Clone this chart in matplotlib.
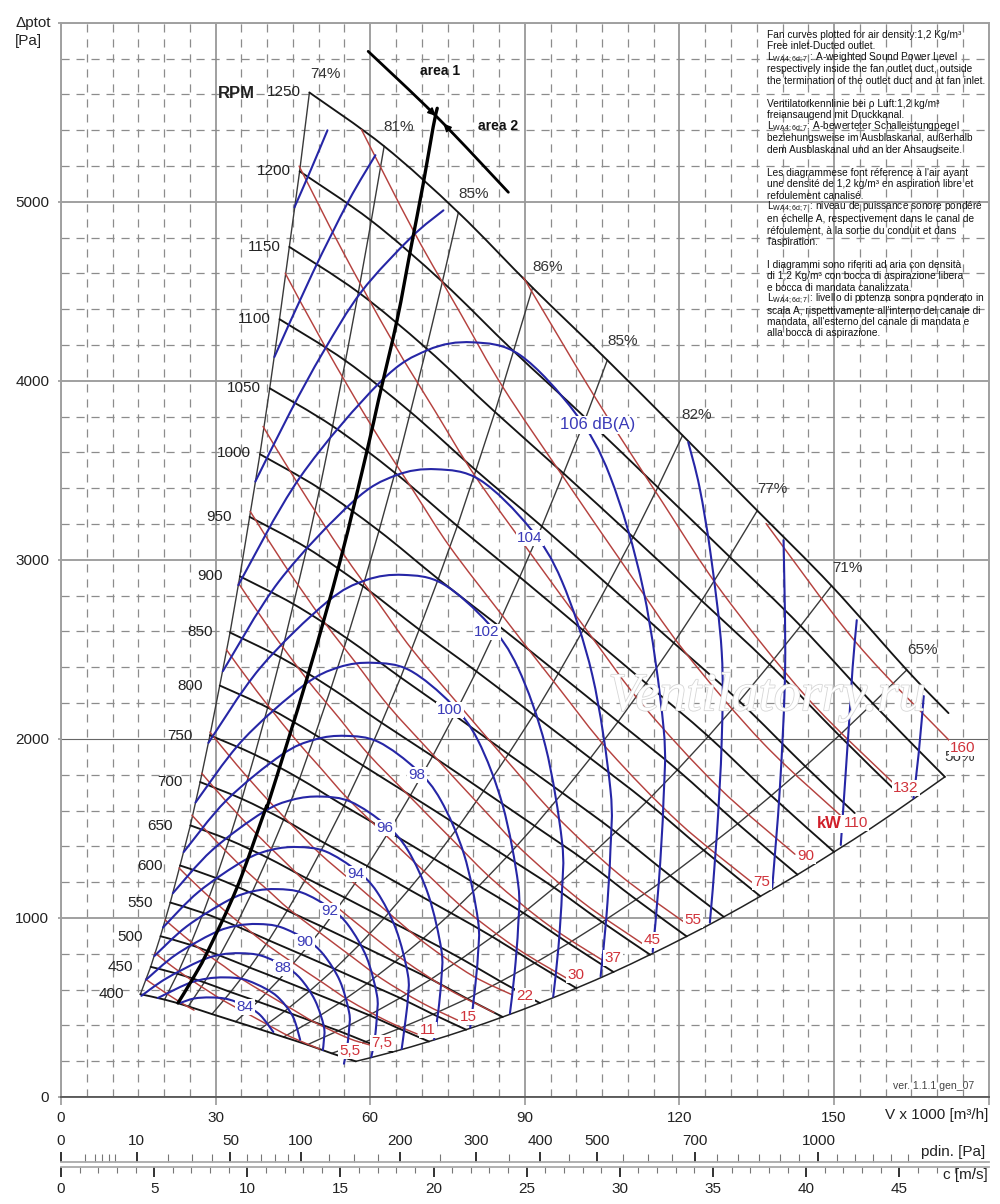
import matplotlib
matplotlib.use("Agg")
import matplotlib.pyplot as plt
import matplotlib.patheffects as pe
from matplotlib.path import Path
from matplotlib.patches import PathPatch, FancyArrowPatch
import numpy as np

plt.rcParams['font.family'] = ['Liberation Sans', 'DejaVu Sans']
plt.rcParams['mathtext.default'] = 'regular'

# ---------- RPM curves: one row per speed ----------
RPM_LEVELS = [1250, 1200, 1150, 1100, 1050, 1000, 950, 900, 850, 800, 750, 700, 650, 600, 550, 500, 450, 400]
RPM_V = [
    [48.2, 62.7, 77.1, 91.5, 106.0, 120.6, 135.1, 149.5, 164.1, 172.2],
    [46.3, 60.2, 74.0, 87.8, 101.8, 115.8, 129.7, 143.5, 157.5, 171.5],
    [44.3, 57.7, 70.9, 84.2, 97.5, 111.0, 124.3, 137.5, 151.0, 161.4],
    [42.4, 55.2, 67.8, 80.5, 93.3, 106.1, 118.9, 131.6, 144.4, 154.0],
    [40.5, 52.7, 64.8, 76.9, 89.0, 101.3, 113.5, 125.6, 137.8, 150.0],
    [38.6, 50.2, 61.7, 73.2, 84.8, 96.5, 108.1, 119.6, 131.3, 142.9],
    [36.6, 47.7, 58.6, 69.5, 80.6, 91.7, 102.7, 113.6, 124.7, 135.7],
    [34.7, 45.1, 55.5, 65.9, 76.3, 86.8, 97.3, 107.6, 118.2, 128.6],
    [32.8, 42.6, 52.4, 62.2, 72.1, 82.0, 91.9, 101.7, 111.6, 121.4],
    [30.8, 40.1, 49.3, 58.6, 67.8, 77.2, 86.5, 95.7, 105.0, 114.3],
    [28.9, 37.6, 46.3, 54.9, 63.6, 72.4, 81.1, 89.7, 98.5, 107.2],
    [27.0, 35.1, 43.2, 51.2, 59.4, 67.5, 75.7, 83.7, 91.9, 100.0],
    [25.1, 32.6, 40.1, 47.6, 55.1, 62.7, 70.3, 77.7, 85.3, 92.9],
    [23.1, 30.1, 37.0, 43.9, 50.9, 57.9, 64.8, 71.8, 78.8, 85.7],
    [21.2, 27.6, 33.9, 40.3, 46.6, 53.1, 59.4, 65.8, 72.2, 78.6],
    [19.3, 25.1, 30.8, 36.6, 42.4, 48.2, 54.0, 59.8, 65.6, 71.4],
    [17.4, 22.6, 27.8, 32.9, 38.2, 43.4, 48.6, 53.8, 59.1, 64.3],
    [15.4, 20.1, 24.7, 29.3, 33.9, 38.6, 43.2, 47.8, 52.5, 57.2],
]
RPM_P = [
    [5610, 5310, 4940, 4520, 4115, 3695, 3275, 2855, 2385, 2144],
    [5170, 4894, 4553, 4166, 3792, 3405, 3018, 2631, 2198, 1788],
    [4748, 4494, 4181, 3826, 3483, 3127, 2772, 2416, 2019, 1725],
    [4344, 4112, 3826, 3500, 3187, 2861, 2536, 2211, 1847, 1586],
    [3958, 3747, 3486, 3189, 2904, 2607, 2311, 2014, 1683, 1369],
    [3590, 3398, 3162, 2893, 2634, 2365, 2096, 1827, 1526, 1242],
    [3240, 3067, 2853, 2611, 2377, 2134, 1892, 1649, 1378, 1121],
    [2908, 2753, 2561, 2343, 2133, 1915, 1698, 1480, 1236, 1006],
    [2594, 2455, 2284, 2090, 1903, 1709, 1514, 1320, 1103, 897],
    [2298, 2175, 2023, 1851, 1685, 1513, 1341, 1169, 977, 795],
    [2020, 1912, 1778, 1627, 1481, 1330, 1179, 1028, 859, 698],
    [1759, 1665, 1549, 1417, 1290, 1159, 1027, 895, 748, 608],
    [1517, 1436, 1336, 1222, 1113, 999, 886, 772, 645, 525],
    [1293, 1223, 1138, 1041, 948, 851, 755, 658, 549, 447],
    [1086, 1028, 956, 875, 797, 715, 634, 553, 462, 376],
    [898, 850, 790, 723, 658, 591, 524, 457, 382, 310],
    [727, 688, 640, 586, 533, 479, 424, 370, 309, 251],
    [574, 544, 506, 463, 421, 378, 335, 292, 244, 199],
]
# Lower right boundary of the field
EDGE_V = [171.5, 164.3, 157.2, 150.0, 142.9, 135.7, 128.6, 121.4, 114.3, 107.2, 100.0, 92.9, 85.7, 78.6, 71.4, 64.3, 57.2]
EDGE_P = [1788, 1642, 1502, 1369, 1242, 1121, 1006, 897, 795, 698, 608, 525, 447, 376, 310, 251, 199]

# ---------- Power curves (kW) ----------
KW_LEVELS = [160, 132, 110, 90, 75, 55, 45, 37, 30, 22, 18.5, 15, 11, 7.5, 5.5, 4]
KW_V = [
    [136.8, 154.4, 172.5],
    [89.7, 103.6, 116.7, 128.3, 144.8, 161.7],
    [58.3, 68.6, 77.6, 85.8, 97.5, 109.9, 120.8, 136.3, 152.2],
    [46.2, 54.5, 64.2, 72.6, 80.3, 91.2, 102.8, 113.0, 127.6, 142.4],
    [43.5, 51.3, 60.4, 68.3, 75.5, 85.8, 96.7, 106.3, 120.0, 134.0],
    [39.2, 46.3, 54.5, 61.6, 68.1, 77.4, 87.2, 95.9, 108.2, 120.9],
    [36.7, 43.2, 50.9, 57.6, 63.6, 72.3, 81.5, 89.6, 101.2, 113.0],
    [34.4, 40.5, 47.7, 54.0, 59.6, 67.8, 76.4, 84.0, 94.8, 105.9],
    [32.1, 37.8, 44.5, 50.3, 55.6, 63.2, 71.3, 78.3, 88.4, 98.8],
    [28.9, 34.1, 40.2, 45.4, 50.2, 57.1, 64.3, 70.7, 79.8, 87.6],
    [27.3, 32.2, 37.9, 42.8, 47.3, 53.8, 60.6, 66.7, 75.2, 84.0],
    [25.4, 30.0, 35.3, 40.0, 44.2, 50.2, 56.6, 62.2, 70.2, 78.4],
    [22.9, 27.0, 31.8, 36.0, 39.8, 45.2, 51.0, 56.0, 63.2, 69.1],
    [20.2, 23.8, 28.0, 31.7, 35.0, 39.8, 44.9, 49.3, 55.7, 60.0],
    [18.2, 21.4, 25.2, 28.5, 31.6, 35.9, 40.4, 44.4, 50.2],
    [16.4, 19.4, 22.8, 25.8],
]
KW_P = [
    [3203, 2534, 1987],
    [4578, 3909, 3322, 2818, 2229, 1748],
    [5403, 4826, 4372, 3962, 3461, 2941, 2495, 1974, 1548],
    [5199, 4732, 4227, 3830, 3470, 3032, 2576, 2185, 1729, 1356],
    [4601, 4188, 3741, 3389, 3071, 2683, 2280, 1934, 1530, 1200],
    [3745, 3409, 3045, 2759, 2500, 2184, 1856, 1574, 1245, 977],
    [3271, 2978, 2660, 2410, 2183, 1908, 1621, 1375, 1088, 853],
    [2871, 2613, 2334, 2115, 1916, 1674, 1423, 1207, 955, 749],
    [2498, 2274, 2031, 1840, 1668, 1457, 1238, 1050, 831, 652],
    [2038, 1855, 1657, 1501, 1360, 1189, 1010, 857, 678, 570],
    [1808, 1646, 1470, 1332, 1207, 1054, 896, 760, 601, 472],
    [1574, 1432, 1279, 1159, 1050, 918, 780, 661, 523, 410],
    [1279, 1164, 1040, 942, 854, 746, 634, 538, 425, 352],
    [989, 900, 804, 729, 660, 577, 490, 416, 329, 290],
    [805, 733, 655, 593, 537, 470, 399, 338, 268],
    [658, 599, 535, 485],
]

# ---------- Sound level curves (dB(A)); 108-112 appear as two separate arcs ----------
DB_LEVELS = [114, 112, 112, 110, 110, 108, 108, 106, 104, 102, 100, 98, 96, 94, 92, 90, 88, 86, 84]
DB_V = [
    [167.4, 166.4, 165.4],
    [45.3, 48.5, 51.7],
    [154.4, 153.6, 152.9, 151.3],
    [41.4, 48.8, 55.8, 61.0],
    [140.2, 140.5, 139.5, 138.0],
    [37.7, 44.5, 50.9, 58.3, 67.9, 74.2],
    [121.7, 123.9, 126.1, 128.2, 128.2, 127.2, 125.9],
    [34.4, 46.4, 61.9, 71.1, 79.8, 89.1, 99.8, 106.6, 113.0, 116.9, 116.9, 116.0, 114.8],
    [31.4, 42.3, 56.5, 64.8, 72.8, 81.3, 91.0, 97.2, 103.1, 106.6, 106.6, 105.8, 104.7],
    [28.6, 38.6, 51.5, 59.1, 66.4, 74.1, 83.0, 88.7, 94.0, 97.2, 97.2, 96.5, 95.5],
    [26.1, 35.2, 47.0, 53.9, 60.5, 67.6, 75.7, 80.9, 85.7, 88.7, 88.7, 88.0, 87.1],
    [23.8, 32.1, 42.8, 49.2, 55.2, 61.6, 69.0, 73.7, 78.2, 80.9, 80.9, 80.2, 79.4],
    [21.7, 29.3, 39.1, 44.9, 50.4, 56.2, 63.0, 67.3, 71.3, 73.8, 73.8, 73.2, 72.4],
    [19.8, 26.7, 35.6, 40.9, 45.9, 51.3, 57.4, 61.3, 65.0, 67.3, 67.3, 66.7, 66.1],
    [18.1, 24.4, 32.5, 37.3, 41.9, 46.8, 52.4, 55.9, 59.3, 61.3, 61.3, 60.9, 60.2],
    [16.5, 22.2, 29.6, 34.0, 38.2, 42.6, 47.8, 51.0, 54.1, 55.9, 55.9, 55.5, 54.9],
    [15.6, 20.3, 27.0, 31.0, 34.8, 38.9, 43.6, 46.5, 49.3, 51.0, 51.0, 50.8],
    [18.8, 24.6, 28.3, 31.8, 35.5, 39.7, 42.4, 45.0, 46.4],
    [23.1, 25.8, 29.0, 32.4, 36.2, 38.7, 41.2],
]
DB_P = [
    [2239, 1915, 1669],
    [4969, 5180, 5399],
    [2663, 2400, 2086, 1408],
    [4133, 4601, 5004, 5260],
    [3110, 2397, 1735, 1171],
    [3437, 3827, 4162, 4498, 4800, 4952],
    [3657, 3404, 3021, 2484, 1993, 1443, 974],
    [2859, 3462, 3992, 4171, 4215, 4143, 3819, 3462, 2831, 2066, 1658, 1200, 810],
    [2378, 2880, 3321, 3470, 3506, 3446, 3177, 2880, 2355, 1719, 1379, 998, 674],
    [1978, 2395, 2762, 2886, 2916, 2866, 2642, 2395, 1959, 1429, 1147, 830, 560],
    [1645, 1992, 2297, 2400, 2425, 2384, 2197, 1992, 1629, 1189, 954, 690, 466],
    [1368, 1657, 1911, 1996, 2017, 1983, 1828, 1657, 1355, 989, 794, 574, 388],
    [1138, 1378, 1589, 1660, 1678, 1649, 1520, 1378, 1127, 822, 660, 478, 322],
    [947, 1146, 1322, 1381, 1396, 1372, 1264, 1146, 937, 684, 549, 397, 268],
    [787, 953, 1099, 1149, 1161, 1141, 1052, 953, 780, 569, 457, 330, 223],
    [655, 793, 915, 956, 966, 949, 875, 793, 649, 473, 380, 275, 186],
    [565, 660, 760, 795, 803, 789, 727, 660, 539, 394, 316, 262],
    [553, 633, 661, 668, 657, 605, 549, 449, 320],
    [525, 550, 556, 546, 503, 456, 363],
]

# ---------- Heavy lines ----------
DIVIDE_V = [22.7, 25.4, 28.3, 34.2, 39.6, 40.6, 47.8, 54.2, 59.4, 61.6, 65.2, 67.8, 70.3, 72.2, 73.0]
DIVIDE_P = [525, 653, 804, 1173, 1602, 1675, 2345, 2998, 3612, 3892, 4338, 4729, 5103, 5416, 5522]
AREA_V = [59.6, 73.0, 86.8]
AREA_P = [5840, 5472, 5053]

# ---------- Axis ticks ----------
V_MAJOR = [0, 30, 60, 90, 120, 150, 180]
V_LABELS = ['0', '30', '60', '90', '120', '150', '']
V_MINOR = [v for v in range(5, 180, 5) if v % 30]
P_MAJOR = [0, 1000, 2000, 3000, 4000, 5000, 6000]
P_LABELS = ['0', '1000', '2000', '3000', '4000', '5000', '']
P_MINOR = [p for p in range(200, 6000, 200) if p % 1000]
PDIN_MAJOR = [0, 10, 50, 100, 200, 300, 400, 500, 700, 1000]
PDIN_MINOR = [1, 2, 3, 4, 5, 20, 30, 40, 60, 70, 80, 90, 125, 150, 175, 250, 350, 450, 550,
              600, 650, 750, 800, 850, 900, 950, 1050, 1100, 1150, 1200, 1250]
C_MAJOR = [0, 5, 10, 15, 20, 25, 30, 35, 40, 45]
C_MINOR = [c for c in range(1, 50) if c % 5]

# ---------- Texts ----------
EFF_LABELS = ['74%', '81%', '85%', '86%', '85%', '82%', '77%', '71%', '65%', '56%']
EFF_POS = [(325, 74), (399, 127), (474, 194), (548, 267), (623, 341), (697, 415), (772, 489), (847, 568), (922, 650), (960, 757)]
RPM_POS = [(284, 92), (274, 171), (264, 247), (254, 319), (244, 388), (234, 453), (219, 517), (210, 576), (200, 632),
           (190, 686), (180, 736), (170, 782), (160, 826), (150, 866), (140, 903), (130, 937), (120, 967), (111, 994)]
KW_TEXT = ['5,5', '7,5', '11', '15', '22', '30', '37', '45', '55', '75', '90', '110', '132', '160']
KW_POS = [(350, 1051), (382, 1043), (428, 1030), (468, 1017), (525, 996), (576, 975), (613, 958), (652, 940), (693, 920),
          (762, 882), (806, 856), (856, 823), (906, 788), (963, 748)]
DB_TEXT = ['84', '88', '90', '92', '94', '96', '98', '100', '102', '104', '106 dB(A)']
DB_POS = [(245, 1007), (283, 968), (305, 942), (330, 911), (356, 874), (385, 828), (417, 775), (450, 710), (487, 632), (530, 538), (598, 425)]
NOTE_L = 'L$_{WA4;6d;7}$'
NOTES = [
    'Fan curves plotted for air density:1,2 Kg/m³',
    'Free inlet-Ducted outlet.',
    NOTE_L + ' : A-weighted Sound Power Level',
    'respectively inside the fan outlet duct, outside',
    'the termination of the outlet duct and at fan inlet.',
    '',
    'Ventilatorkennlinie bei ρ Luft:1,2 kg/m³',
    'freiansaugend mit Druckkanal.',
    NOTE_L + ': A-bewerteter Schalleistungpegel',
    'beziehungsweise im Ausblaskanal, außerhalb',
    'dem Ausblaskanal und an der Ansaugseite.',
    '',
    "Les diagrammese font réference à l'air ayant",
    'une densité de 1,2 kg/m³ en aspiration libre et',
    'refoulement canalisé.',
    NOTE_L + ' : niveau de puissance sonore pondéré',
    'en échelle A, respectivement dans le canal de',
    'réfoulement, à la sortie du conduit et dans',
    "l'aspiration.",
    '',
    'I diagrammi sono riferiti ad aria con densità',
    'di 1,2 Kg/m³ con bocca di aspirazione libera',
    'e bocca di mandata canalizzata.',
    NOTE_L + ' : livello di potenza sonora ponderato in',
    "scala A, rispettivamente all'interno del canale di",
    "mandata, all'esterno del canale di mandata e",
    'alla bocca di aspirazione.',
]

W, H = 1000, 1204
RED, BLUE = '#b5423f', '#2626a6'
RED_T, BLUE_T = '#d0323a', '#3a3ab8'
GRID = '#8c8c8c'

fig = plt.figure(figsize=(W / 100, H / 100), dpi=100, facecolor='white')
L, R, B, T_ = 61, 988.7, 1097, 22.7
ax = fig.add_axes([L / W, 1 - B / H, (R - L) / W, (B - T_) / H])
ax.set_xlim(0, 180)
ax.set_ylim(0, 6000)
ax.set_axisbelow(True)


def txt(px, py, s, **kw):
    kw.setdefault('ha', 'center')
    kw.setdefault('va', 'center')
    kw.setdefault('fontsize', 11)
    return fig.text(px / W, 1 - py / H, s, **kw)


def curve(vs, ps, **kw):
    """Smooth curve through the read points (Catmull-Rom drawn as Bezier)."""
    pts = np.column_stack([vs, ps]).astype(float)
    if len(pts) < 3:
        ax.plot(pts[:, 0], pts[:, 1], solid_capstyle='round', **kw)
        return
    ext = np.vstack([pts[0], pts, pts[-1]])
    verts, codes = [pts[0]], [Path.MOVETO]
    for i in range(1, len(ext) - 2):
        p0, p1, p2, p3 = ext[i - 1], ext[i], ext[i + 1], ext[i + 2]
        verts += [p1 + (p2 - p0) / 6, p2 - (p3 - p1) / 6, p2]
        codes += [Path.CURVE4] * 3
    ax.add_patch(PathPatch(Path(verts, codes), fill=False, capstyle='round', **kw))


# Grid
ax.set_xticks(V_MAJOR)
ax.set_xticklabels(V_LABELS)
ax.set_xticks(V_MINOR, minor=True)
ax.set_yticks(P_MAJOR)
ax.set_yticklabels(P_LABELS)
ax.set_yticks(P_MINOR, minor=True)
ax.grid(which='major', color='#999999', lw=1.3)
ax.grid(which='minor', color=GRID, lw=0.9, ls=(0, (6.5, 5.5)))
ax.yaxis.get_major_ticks()[2].gridline.set(color='#666666', lw=0.8)
ax.tick_params(which='major', axis='x', length=6, width=1.2, color='#999999', labelsize=11, pad=4, labelcolor='#222222')
ax.tick_params(which='major', axis='y', length=2.5, width=1.2, color='#999999', labelsize=11, pad=6, labelcolor='#222222')
ax.tick_params(which='minor', length=0)
for s in ['top', 'right', 'left']:
    ax.spines[s].set(color='#a0a0a0', lw=1.4)
ax.spines['bottom'].set(color='#555555', lw=1.3)

# Watermark
txt(767, 697, 'Ventilatorry.ru', fontsize=39, family='Liberation Serif', style='italic', color='white', zorder=1.5,
    path_effects=[pe.withStroke(linewidth=1.2, foreground='#d6d6d6')])

# Curves
for k in range(9):
    ax.plot([row[k] for row in RPM_V], [row[k] for row in RPM_P], color='#3a3a3a', lw=1.0, zorder=2)
curve(EDGE_V, EDGE_P, color='#222222', lw=1.1, zorder=2)
for vs, ps in zip(RPM_V, RPM_P):
    curve(vs, ps, color='#151515', lw=1.35, zorder=2.2)
for vs, ps in zip(KW_V, KW_P):
    curve(vs, ps, color=RED, lw=1.05, zorder=2.4)
for vs, ps in zip(DB_V, DB_P):
    curve(vs, ps, color=BLUE, lw=1.5, zorder=2.6)
curve(DIVIDE_V, DIVIDE_P, color='black', lw=2.4, zorder=2.8)
curve(AREA_V, AREA_P, color='black', lw=2.0, zorder=2.8)
for a, b in [((71.0, 5527), (72.7, 5480)), ((76.0, 5381), (74.2, 5436))]:
    ax.add_patch(FancyArrowPatch(a, b, arrowstyle='-|>', mutation_scale=11, shrinkA=0, shrinkB=0,
                                 color='black', lw=1.2, zorder=3))

# Labels
box = dict(facecolor='white', edgecolor='none', pad=0.8)
for s, (x, y) in zip(EFF_LABELS, EFF_POS):
    txt(x, y, s, color='#333333')
for lv, (x, y) in zip(RPM_LEVELS, RPM_POS):
    txt(x, y, str(lv), color='#222222')
for s, (x, y) in zip(KW_TEXT, KW_POS):
    txt(x, y, s, color=RED_T, bbox=box, zorder=4)
for s, (x, y) in zip(DB_TEXT, DB_POS):
    txt(x, y, s, color=BLUE_T, bbox=box, zorder=4, fontsize=12 if s.startswith('106') else 11)
txt(829, 824, 'kW', color='#d01f2a', fontweight='bold', fontsize=12, bbox=box, zorder=4)
txt(236, 93, 'RPM', fontweight='bold', fontsize=12, color='#222222')
txt(440, 71, 'area 1', fontweight='bold', fontsize=10, color='#111111')
txt(498, 126, 'area 2', fontweight='bold', fontsize=10, color='#111111')
txt(934, 1086, 'ver. 1.1.1 gen_07', fontsize=7.6, color='#444444')
txt(15, 23, 'Δptot', ha='left', color='#222222', fontsize=11)
txt(15, 41, '[Pa]', ha='left', color='#222222', fontsize=11)
txt(988, 1115, 'V x 1000 [m³/h]', ha='right', color='#222222', fontsize=11)
txt(985, 1152, 'pdin. [Pa]', ha='right', color='#222222', fontsize=11)
txt(988, 1175, 'c [m/s]', ha='right', color='#222222', fontsize=11)
for i, line in enumerate(NOTES):
    if line:
        txt(767, 35 + i * 11.48, line, ha='left', fontsize=7.25, color='#111111')

# Dynamic pressure scale
ax_p = fig.add_axes([L / W, 1 - 1162 / H, (R - L) / W, 0.5 / H], facecolor='none')
ax_p.set_xscale('function', functions=(lambda p: np.sqrt(np.maximum(p, 0) / 0.6), lambda c: 0.6 * np.asarray(c) ** 2))
ax_p.set_xlim(0, 1500)
ax_p.set_yticks([])
ax_p.xaxis.tick_top()
ax_p.set_xticks(PDIN_MAJOR)
ax_p.set_xticklabels([str(v) for v in PDIN_MAJOR])
ax_p.set_xticks(PDIN_MINOR, minor=True)
ax_p.xaxis.set_minor_formatter(matplotlib.ticker.NullFormatter())
ax_p.tick_params(which='major', axis='x', length=7.5, width=1.3, color='#222222', labelsize=11, pad=2.5, labelcolor='#222222')
ax_p.tick_params(which='minor', axis='x', length=5.5, width=0.8, color='#777777')
for s in ['left', 'right', 'bottom']:
    ax_p.spines[s].set_visible(False)
ax_p.spines['top'].set(color='#aaaaaa', lw=1.3)

# Velocity scale
ax_c = fig.add_axes([L / W, 1 - 1167 / H, (R - L) / W, 0.5 / H], facecolor='none')
ax_c.set_xlim(0, 49.8)
ax_c.set_yticks([])
ax_c.set_xticks(C_MAJOR)
ax_c.set_xticklabels([str(v) for v in C_MAJOR])
ax_c.set_xticks(C_MINOR, minor=True)
ax_c.tick_params(which='major', axis='x', length=7, width=1.3, color='#222222', labelsize=11, pad=4, labelcolor='#222222')
ax_c.tick_params(which='minor', axis='x', length=4.5, width=0.8, color='#777777')
for s in ['left', 'right', 'bottom']:
    ax_c.spines[s].set_visible(False)
ax_c.spines['top'].set(color='#aaaaaa', lw=1.3)
ax_c.xaxis.set_ticks_position('bottom')

fig.savefig('out.png', dpi=100, facecolor='white')
